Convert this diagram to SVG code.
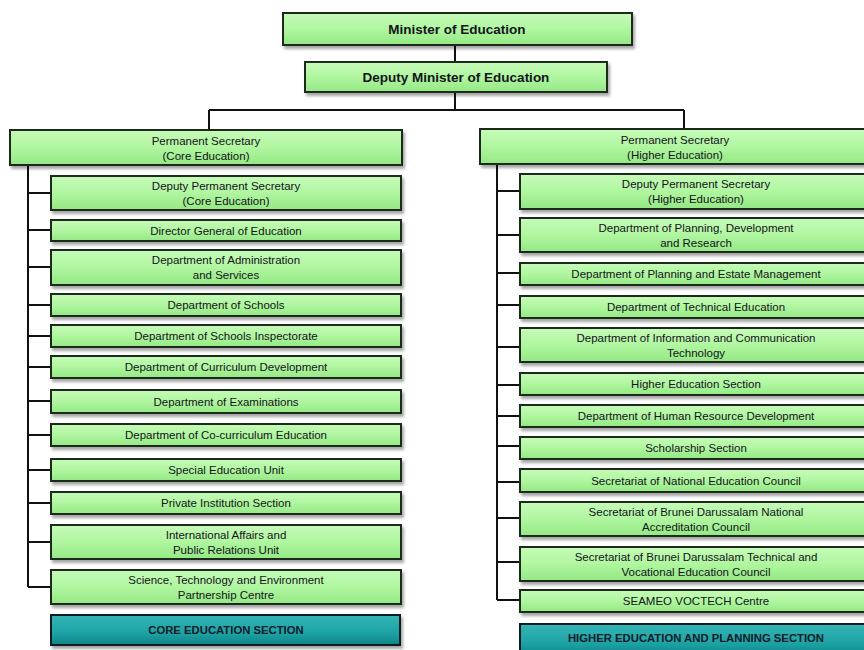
<svg xmlns="http://www.w3.org/2000/svg" width="864" height="650" viewBox="0 0 864 650">
<defs>
<linearGradient id="g" x1="0" y1="0" x2="0" y2="1">
<stop offset="0" stop-color="#c6fbb8"/>
<stop offset="0.5" stop-color="#b0f6a0"/>
<stop offset="1" stop-color="#94e884"/>
</linearGradient>
<linearGradient id="t" x1="0" y1="0" x2="0" y2="1">
<stop offset="0" stop-color="#34b5b5"/>
<stop offset="0.6" stop-color="#1ea3a4"/>
<stop offset="1" stop-color="#0d8587"/>
</linearGradient>
<filter id="sh" x="-5%" y="-20%" width="115%" height="160%">
<feDropShadow dx="2" dy="3" stdDeviation="1.5" flood-color="#000" flood-opacity="0.35"/>
</filter>
</defs>
<style>
.b{fill:url(#g);stroke:#1e2a1e;stroke-width:2;filter:url(#sh)}
.s{fill:url(#t);stroke:#0d1f20;stroke-width:2;filter:url(#sh)}
text{font-family:"Liberation Sans",Arial,sans-serif;fill:#14141c;text-anchor:middle}
.n{font-size:11.5px}
.h{font-size:13.5px;font-weight:bold}
.c{font-size:11.3px;font-weight:bold;fill:#0f1a2a}
.k{stroke:#111;stroke-width:2;fill:none}
</style>
<rect width="864" height="650" fill="#fff"/>
<g id="connectors">
<path class="k" d="M455 45V62M455 92V110M209 110H684M209 110V130M684 110V129"/>
<path class="k" d="M28 165V587M28 193H51M28 230H51M28 267H51M28 305H51M28 336H51M28 367H51M28 401H51M28 435H51M28 470H51M28 503H51M28 542H51M28 587H51"/>
<path class="k" d="M497 164V600M497 191H520M497 235H520M497 273H520M497 305H520M497 347H520M497 385H520M497 416H520M497 446H520M497 482H520M497 518H520M497 562H520M497 600H520"/>
</g>
<g id="minister"><rect class="b" x="283" y="13" width="349" height="32"/><text class="h" x="457" y="34">Minister of Education</text></g>
<g id="deputy-minister"><rect class="b" x="305" y="62" width="302" height="30"/><text class="h" x="456" y="82">Deputy Minister of Education</text></g>
<g id="ps-core"><rect class="b" x="10" y="130" width="392" height="35"/><text class="n" x="206" y="145">Permanent Secretary</text><text class="n" x="206" y="160">(Core Education)</text></g>
<g id="ps-higher"><rect class="b" x="480" y="129" width="400" height="35"/><text class="n" x="675" y="144">Permanent Secretary</text><text class="n" x="675" y="159">(Higher Education)</text></g>

<g id="l1"><rect class="b" x="51" y="176" width="350" height="34"/><text class="n" x="226" y="190">Deputy Permanent Secretary</text><text class="n" x="226" y="205">(Core Education)</text></g>
<g id="l2"><rect class="b" x="51" y="220" width="350" height="21"/><text class="n" x="226" y="234.5">Director General of Education</text></g>
<g id="l3"><rect class="b" x="51" y="250" width="350" height="35"/><text class="n" x="226" y="264">Department of Administration</text><text class="n" x="226" y="279">and Services</text></g>
<g id="l4"><rect class="b" x="51" y="294" width="350" height="22"/><text class="n" x="226" y="309">Department of Schools</text></g>
<g id="l5"><rect class="b" x="51" y="325" width="350" height="22"/><text class="n" x="226" y="340">Department of Schools Inspectorate</text></g>
<g id="l6"><rect class="b" x="51" y="356" width="350" height="22"/><text class="n" x="226" y="371">Department of Curriculum Development</text></g>
<g id="l7"><rect class="b" x="51" y="390" width="350" height="23"/><text class="n" x="226" y="405.5">Department of Examinations</text></g>
<g id="l8"><rect class="b" x="51" y="424" width="350" height="22"/><text class="n" x="226" y="439">Department of Co-curriculum Education</text></g>
<g id="l9"><rect class="b" x="51" y="459" width="350" height="22"/><text class="n" x="226" y="474">Special Education Unit</text></g>
<g id="l10"><rect class="b" x="51" y="492" width="350" height="22"/><text class="n" x="226" y="507">Private Institution Section</text></g>
<g id="l11"><rect class="b" x="51" y="525" width="350" height="34"/><text class="n" x="226" y="539">International Affairs and</text><text class="n" x="226" y="554">Public Relations Unit</text></g>
<g id="l12"><rect class="b" x="51" y="570" width="350" height="34"/><text class="n" x="226" y="584">Science, Technology and Environment</text><text class="n" x="226" y="599">Partnership Centre</text></g>
<g id="core-section"><rect class="s" x="51" y="615" width="349" height="30"/><text class="c" x="226" y="634">CORE EDUCATION SECTION</text></g>

<g id="r1"><rect class="b" x="520" y="174" width="360" height="35"/><text class="n" x="696" y="188">Deputy Permanent Secretary</text><text class="n" x="696" y="203">(Higher Education)</text></g>
<g id="r2"><rect class="b" x="520" y="218" width="360" height="34"/><text class="n" x="696" y="232">Department of Planning, Development</text><text class="n" x="696" y="247">and Research</text></g>
<g id="r3"><rect class="b" x="520" y="263" width="360" height="22"/><text class="n" x="696" y="278">Department of Planning and Estate Management</text></g>
<g id="r4"><rect class="b" x="520" y="296" width="360" height="22"/><text class="n" x="696" y="311">Department of Technical Education</text></g>
<g id="r5"><rect class="b" x="520" y="328" width="360" height="34"/><text class="n" x="696" y="342">Department of Information and Communication</text><text class="n" x="696" y="357">Technology</text></g>
<g id="r6"><rect class="b" x="520" y="373" width="360" height="22"/><text class="n" x="696" y="388">Higher Education Section</text></g>
<g id="r7"><rect class="b" x="520" y="405" width="360" height="22"/><text class="n" x="696" y="420">Department of Human Resource Development</text></g>
<g id="r8"><rect class="b" x="520" y="437" width="360" height="22"/><text class="n" x="696" y="452">Scholarship Section</text></g>
<g id="r9"><rect class="b" x="520" y="469" width="360" height="23"/><text class="n" x="696" y="484.5">Secretariat of National Education Council</text></g>
<g id="r10"><rect class="b" x="520" y="502" width="360" height="34"/><text class="n" x="696" y="516">Secretariat of Brunei Darussalam National</text><text class="n" x="696" y="531">Accreditation Council</text></g>
<g id="r11"><rect class="b" x="520" y="547" width="360" height="34"/><text class="n" x="696" y="561">Secretariat of Brunei Darussalam Technical and</text><text class="n" x="696" y="576">Vocational Education Council</text></g>
<g id="r12"><rect class="b" x="520" y="590" width="360" height="22"/><text class="n" x="696" y="605">SEAMEO VOCTECH Centre</text></g>
<g id="higher-section"><rect class="s" x="520" y="624" width="360" height="32"/><text class="c" x="696" y="642">HIGHER EDUCATION AND PLANNING SECTION</text></g>
</svg>
